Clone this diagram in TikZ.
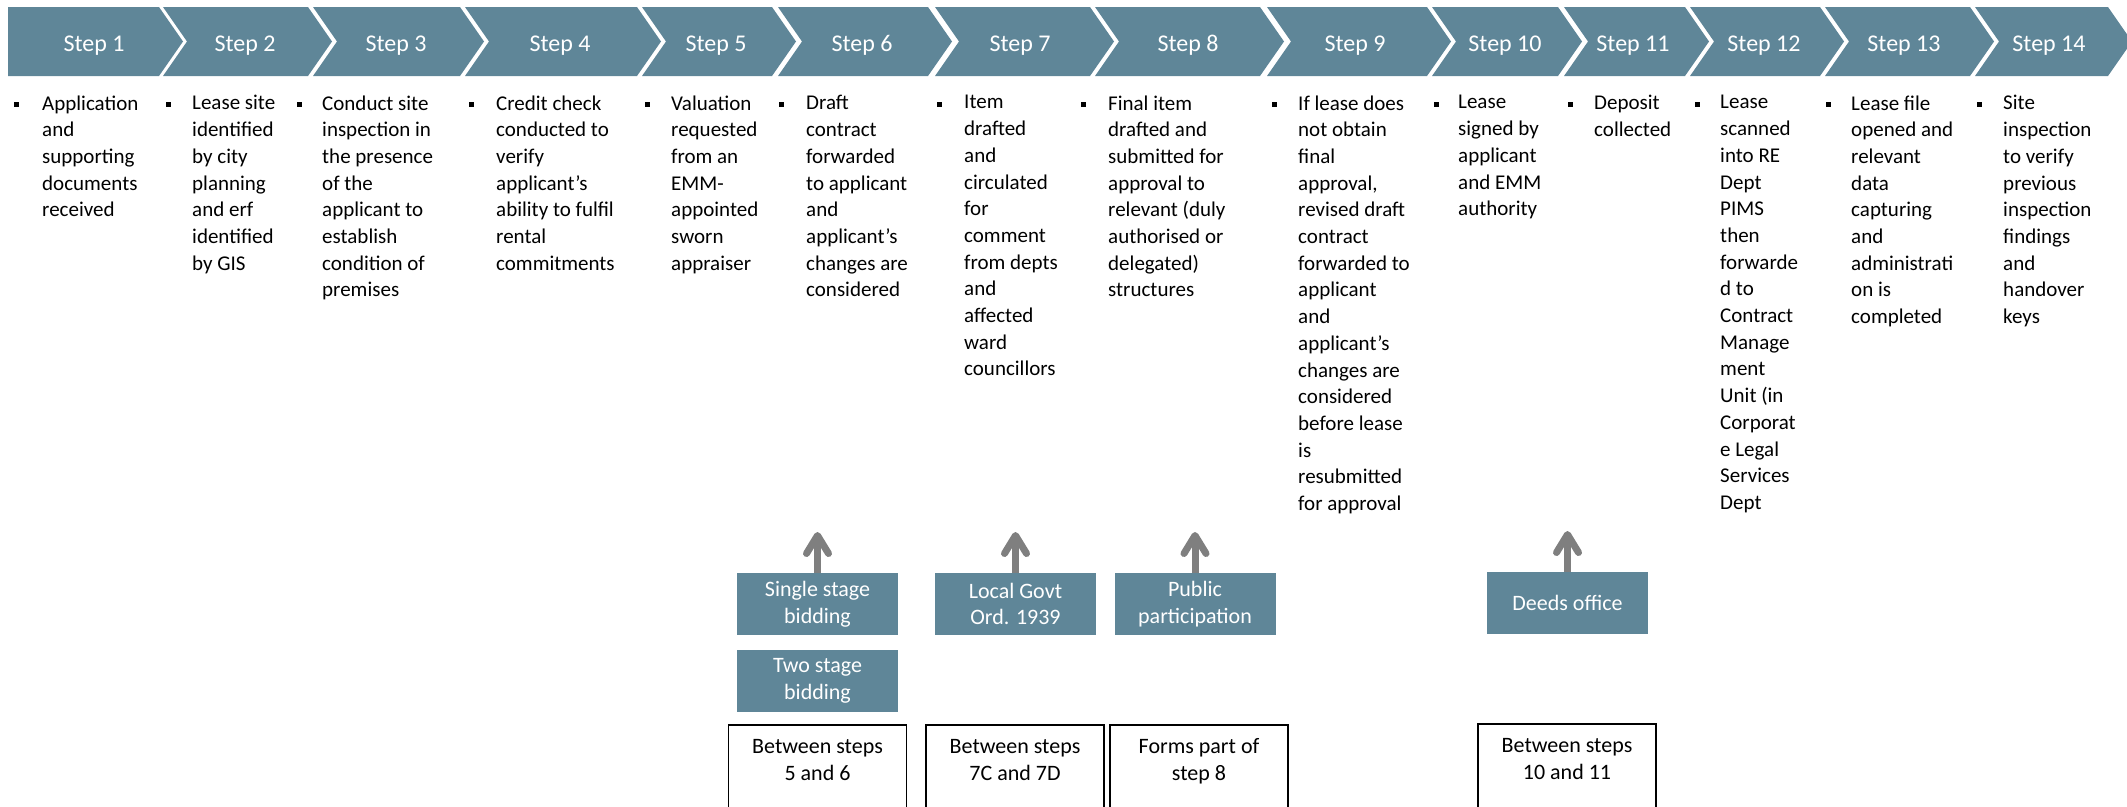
\documentclass[tikz,border=0pt]{standalone}
\usepackage{fontspec}
\setmainfont{Carlito}
\usepackage{tikz}
\usetikzlibrary{arrows.meta}
\definecolor{chev}{HTML}{5F8698}
\definecolor{arrowgray}{HTML}{7F7F7F}
\definecolor{ink}{HTML}{000000}
\tikzset{
  chevron/.style={fill=chev},
  steplab/.style={text=white, font=\fontsize{24}{29}\selectfont, inner sep=0pt, anchor=base},
  bodytxt/.style={text=ink, font=\fontsize{21}{26.7}\selectfont, align=left, inner sep=0pt, anchor=north west, execute at begin node=\strut},
  bulletsq/.style={fill=ink, minimum size=5pt, inner sep=0pt},
  sidebox/.style={fill=chev, minimum width=161pt, minimum height=62pt, inner sep=0pt, text=white, align=center, font=\fontsize{22}{26.5}\selectfont},
  notebox/.style={draw=ink, line width=1.5pt, minimum width=178pt, minimum height=100pt, inner sep=0pt, anchor=north},
  notetxt/.style={text=ink, align=center, font=\fontsize{22}{26.5}\selectfont, inner sep=0pt, anchor=base},
  uparrow/.style={draw=arrowgray, line width=7pt, -{Straight Barb[length=18pt,width=22pt,round]}}
}
\begin{document}
\begin{tikzpicture}[x=1pt,y=-1pt]
  \useasboundingbox (0,0) rectangle (2127,806);
  \clip (0,0) rectangle (2127,806);
  % chevron band
  \fill[chevron] (8,7) -- (159,7) -- (183,41.5) -- (159,76) -- (8,76) -- cycle;
  \fill[chevron] (163,7) -- (308,7) -- (332,41.5) -- (308,76) -- (163,76) -- (187,41.5) -- cycle;
  \fill[chevron] (313,7) -- (460,7) -- (484,41.5) -- (460,76) -- (313,76) -- (337,41.5) -- cycle;
  \fill[chevron] (465,7) -- (637,7) -- (661,41.5) -- (637,76) -- (465,76) -- (489,41.5) -- cycle;
  \fill[chevron] (642,7) -- (772,7) -- (796,41.5) -- (772,76) -- (642,76) -- (666,41.5) -- cycle;
  \fill[chevron] (778,7) -- (928,7) -- (952,41.5) -- (928,76) -- (778,76) -- (802,41.5) -- cycle;
  \fill[chevron] (935,7) -- (1090,7) -- (1114,41.5) -- (1090,76) -- (935,76) -- (959,41.5) -- cycle;
  \fill[chevron] (1095,7) -- (1260,7) -- (1284,41.5) -- (1260,76) -- (1095,76) -- (1119,41.5) -- cycle;
  \fill[chevron] (1267,7) -- (1427,7) -- (1451,41.5) -- (1427,76) -- (1267,76) -- (1291,41.5) -- cycle;
  \fill[chevron] (1432,7) -- (1558,7) -- (1582,41.5) -- (1558,76) -- (1432,76) -- (1456,41.5) -- cycle;
  \fill[chevron] (1564,7) -- (1685,7) -- (1709,41.5) -- (1685,76) -- (1564,76) -- (1588,41.5) -- cycle;
  \fill[chevron] (1690,7) -- (1820,7) -- (1844,41.5) -- (1820,76) -- (1690,76) -- (1714,41.5) -- cycle;
  \fill[chevron] (1825,7) -- (1970,7) -- (1994,41.5) -- (1970,76) -- (1825,76) -- (1849,41.5) -- cycle;
  \fill[chevron] (1975,7) -- (2108,7) -- (2132,41.5) -- (2108,76) -- (1975,76) -- (1999,41.5) -- cycle;
  \node[steplab] (s1) at (94,51) {Step 1};
  \node[steplab] (s2) at (245,51) {Step 2};
  \node[steplab] (s3) at (396,51) {Step 3};
  \node[steplab] (s4) at (560,51) {Step 4};
  \node[steplab] (s5) at (716,51) {Step 5};
  \node[steplab] (s6) at (862,51) {Step 6};
  \node[steplab] (s7) at (1020,51) {Step 7};
  \node[steplab] (s8) at (1188,51) {Step 8};
  \node[steplab] (s9) at (1355,51) {Step 9};
  \node[steplab] (s10) at (1505,51) {Step 10};
  \node[steplab] (s11) at (1633,51) {Step 11};
  \node[steplab] (s12) at (1764,51) {Step 12};
  \node[steplab] (s13) at (1904,51) {Step 13};
  \node[steplab] (s14) at (2049,51) {Step 14};
  % bullet texts
  \node[bulletsq] (b1) at (16,104) {};
  \node[bulletsq] (b2) at (168,104) {};
  \node[bulletsq] (b3) at (299,104) {};
  \node[bulletsq] (b4) at (471,104) {};
  \node[bulletsq] (b5) at (647,104) {};
  \node[bulletsq] (b6) at (781,104) {};
  \node[bulletsq] (b7) at (939,104) {};
  \node[bulletsq] (b8) at (1083,104) {};
  \node[bulletsq] (b9) at (1274,104) {};
  \node[bulletsq] (b10) at (1436,104) {};
  \node[bulletsq] (b11) at (1570,104) {};
  \node[bulletsq] (b12) at (1697,104) {};
  \node[bulletsq] (b13) at (1828,104) {};
  \node[bulletsq] (b14) at (1979,104) {};
  \node[bodytxt] (t1) at (42,95.3) {Application\\and\\supporting\\documents\\received};
  \node[bodytxt] (t2) at (192,95.3) {Lease site\\identified\\by city\\planning\\and erf\\identified\\by GIS};
  \node[bodytxt] (t3) at (322,95.3) {Conduct site\\inspection in\\the presence\\of the\\applicant to\\establish\\condition of\\premises};
  \node[bodytxt] (t4) at (496,95.3) {Credit check\\conducted to\\verify\\applicant’s\\ability to fulfil\\rental\\commitments};
  \node[bodytxt] (t5) at (671,95.3) {Valuation\\requested\\from an\\EMM-\\appointed\\sworn\\appraiser};
  \node[bodytxt] (t6) at (806,95.3) {Draft\\contract\\forwarded\\to applicant\\and\\applicant’s\\changes are\\considered};
  \node[bodytxt] (t7) at (964,95.3) {Item\\drafted\\and\\circulated\\for\\comment\\from depts\\and\\affected\\ward\\councillors};
  \node[bodytxt] (t8) at (1108,95.3) {Final item\\drafted and\\submitted for\\approval to\\relevant (duly\\authorised or\\delegated)\\structures};
  \node[bodytxt] (t9) at (1298,95.3) {If lease does\\not obtain\\final\\approval,\\revised draft\\contract\\forwarded to\\applicant\\and\\applicant’s\\changes are\\considered\\before lease\\is\\resubmitted\\for approval};
  \node[bodytxt] (t10) at (1458,95.3) {Lease\\signed by\\applicant\\and EMM\\authority};
  \node[bodytxt] (t11) at (1594,95.3) {Deposit\\collected};
  \node[bodytxt] (t12) at (1720,95.3) {Lease\\scanned\\into RE\\Dept\\PIMS\\then\\forwarde\\d to\\Contract\\Manage\\ment\\Unit (in\\Corporat\\e Legal\\Services\\Dept};
  \node[bodytxt] (t13) at (1851,95.3) {Lease file\\opened and\\relevant\\data\\capturing\\and\\administrati\\on is\\completed};
  \node[bodytxt] (t14) at (2003,95.3) {Site\\inspection\\to verify\\previous\\inspection\\findings\\and\\handover\\keys};
  % side boxes and arrows
  \node[sidebox] (single) at (817.5,604) {Single stage\\bidding};
  \node[sidebox] (two) at (817.5,681) {Two stage\\bidding};
  \node[sidebox] (govt) at (1015.5,604) {Local Govt\\Ord. 1939};
  \node[sidebox] (public) at (1195,604) {Public\\participation};
  \node[sidebox] (deeds) at (1567.5,603) {Deeds office};
  \coordinate (up1) at (817.5,532);
  \coordinate (up2) at (1015.5,532);
  \coordinate (up3) at (1195,532);
  \coordinate (up4) at (1567.5,531);
  \draw[uparrow] (single.north) -- (up1);
  \draw[uparrow] (govt.north) -- (up2);
  \draw[uparrow] (public.north) -- (up3);
  \draw[uparrow] (deeds.north) -- (up4);
  % notes
  \node[notebox] (n1) at (817.5,724) {};
  \node[notebox] (n2) at (1015,724) {};
  \node[notebox] (n3) at (1199,724) {};
  \node[notebox] (n4) at (1567,723) {};
  \node[notetxt] at (817.5,780) {Between steps\\5 and 6};
  \node[notetxt] at (1015,780) {Between steps\\7C and 7D};
  \node[notetxt] at (1199,780) {Forms part of\\step 8};
  \node[notetxt] at (1567,779) {Between steps\\10 and 11};
\end{tikzpicture}
\end{document}
